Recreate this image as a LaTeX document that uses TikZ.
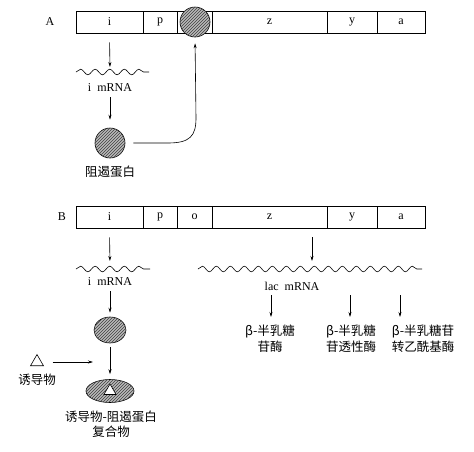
\documentclass[tikz,border=0pt]{standalone}
\usepackage{fontspec}
\setmainfont{Liberation Serif}
\newfontfamily\cjk{Noto Sans CJK SC}
\usetikzlibrary{arrows.meta,decorations.pathmorphing,shapes.geometric,patterns}
\begin{document}
\begin{tikzpicture}[x=1pt,y=-1pt,
  seg/.style={draw,line width=0.7pt,rectangle,inner sep=0pt,minimum height=22pt,font=\fontsize{12}{14}\selectfont},
  lab/.style={inner sep=1pt,font=\fontsize{12}{14}\selectfont},
  cn/.style={inner sep=1pt,align=center,font=\cjk\fontsize{12.5}{15.5}\selectfont},
  arr/.style={line width=0.6pt,-{Stealth[length=5pt,width=3pt]}},
  wave/.style={line width=0.6pt,decorate,decoration={snake,segment length=14.6pt,amplitude=2.8pt}},
  hatch/.style={draw,line width=0.6pt,fill=gray!55,postaction={pattern=north east lines,pattern color=gray!50!black}},
  repc/.style={hatch,circle,inner sep=0pt,minimum size=30pt}
]
\useasboundingbox (0,0) rectangle (474,451);
% ---------- A ----------
\node[lab] (Alab) at (50,22) {A};
\node[seg,minimum width=67pt] (Ai) at (109.5,22) {i};
\node[seg,minimum width=34pt] (Ap) at (160,22) {p};
\node[seg,minimum width=35pt] (Ao) at (194.5,22) {};
\node[seg,minimum width=115pt] (Az) at (269.5,22) {z};
\node[seg,minimum width=50pt] (Ay) at (352,22) {y};
\node[seg,minimum width=48pt] (Aa) at (401,22) {a};
\node[repc] (Aop) at (195,22) {};
\coordinate (wA1) at (76,72);
\coordinate (wA2) at (149,72);
\coordinate (wAm) at (110,72);
\draw[wave] (wA1) -- (wA2);
\node[lab] (AmRNA) at (110,88) {i\ \ mRNA};
\node[repc] (Arep) at (110,143) {};
\node[cn] (Arepl) at (110,172) {阻遏蛋白};
\draw[arr,shorten <=9pt,shorten >=5pt] (Ai.south) -- (wAm);
\draw[arr,shorten <=4pt,shorten >=8pt] (AmRNA.south) -- (Arep.north);
\coordinate (Ac1) at (168,143);
\coordinate (Ac2) at (196,118);
\draw[arr,shorten >=6pt] ([xshift=8pt]Arep.east) -- (Ac1) .. controls (190,143) and (196,136) .. (Ac2) -- (Aop.south);
% ---------- B ----------
\node[lab] (Blab) at (62,217) {B};
\node[seg,minimum width=67pt] (Bi) at (109.5,217) {i};
\node[seg,minimum width=34pt] (Bp) at (160,217) {p};
\node[seg,minimum width=35pt] (Bo) at (194.5,217) {o};
\node[seg,minimum width=115pt] (Bz) at (269.5,217) {z};
\node[seg,minimum width=50pt] (By) at (352,217) {y};
\node[seg,minimum width=48pt] (Ba) at (401,217) {a};
\coordinate (wB1) at (76,269);
\coordinate (wB2) at (150,269);
\coordinate (wBm) at (110,269);
\draw[wave] (wB1) -- (wB2);
\coordinate (wL1) at (198,269);
\coordinate (wL2) at (422,269);
\coordinate (wLm) at (312,269);
\draw[wave,decoration={segment length=14pt}] (wL1) -- (wL2);
\draw[arr,shorten <=9pt,shorten >=8pt] (Bi.south) -- (wBm);
\draw[arr,shorten <=9pt,shorten >=8pt] (Bz.south -| wLm) -- (wLm);
\node[lab] (BmRNA) at (110,282) {i\ \ mRNA};
\node[lab] (lac) at (292,286) {lac\ \ mRNA};
\node[cn,anchor=north] (E1) at (270,324) {\textit{β}-半乳糖\\苷酶};
\node[cn,anchor=north] (E2) at (351,324) {\textit{β}-半乳糖\\苷透性酶};
\node[cn,anchor=north] (E3) at (423,324) {\textit{β}-半乳糖苷\\转乙酰基酶};
\coordinate (e1t) at (271,295);
\coordinate (e2t) at (350,295);
\coordinate (e3t) at (400,295);
\draw[arr] (e1t) -- ([yshift=7pt]e1t |- E1.north);
\draw[arr] (e2t) -- ([yshift=7pt]e2t |- E2.north);
\draw[arr] (e3t) -- ([yshift=7pt]e3t |- E3.north);
\node[hatch,ellipse,inner sep=0pt,minimum width=32pt,minimum height=26pt] (Brep) at (110,330) {};
\draw[arr,shorten <=4pt,shorten >=4pt] (BmRNA.south) -- (Brep.north);
\node[hatch,ellipse,inner sep=0pt,minimum width=48pt,minimum height=23pt] (Bcx) at (110,391) {};
\node[draw,fill=white,line width=0.6pt,regular polygon,regular polygon sides=3,inner sep=0pt,minimum size=14pt] (Bcxt) at (110,391) {};
\draw[arr,shorten <=4pt,shorten >=5pt] (Brep.south) -- (Bcx.north);
\node[draw,line width=0.6pt,regular polygon,regular polygon sides=3,inner sep=0pt,minimum size=15pt] (ind) at (37,362) {};
\node[cn] (indl) at (37,380) {诱导物};
\coordinate (indt) at (93,362);
\draw[arr,shorten <=11pt] (ind.east |- indt) -- (indt);
\node[cn] (cxl) at (111,424) {诱导物-阻遏蛋白\\复合物};
\end{tikzpicture}
\end{document}
